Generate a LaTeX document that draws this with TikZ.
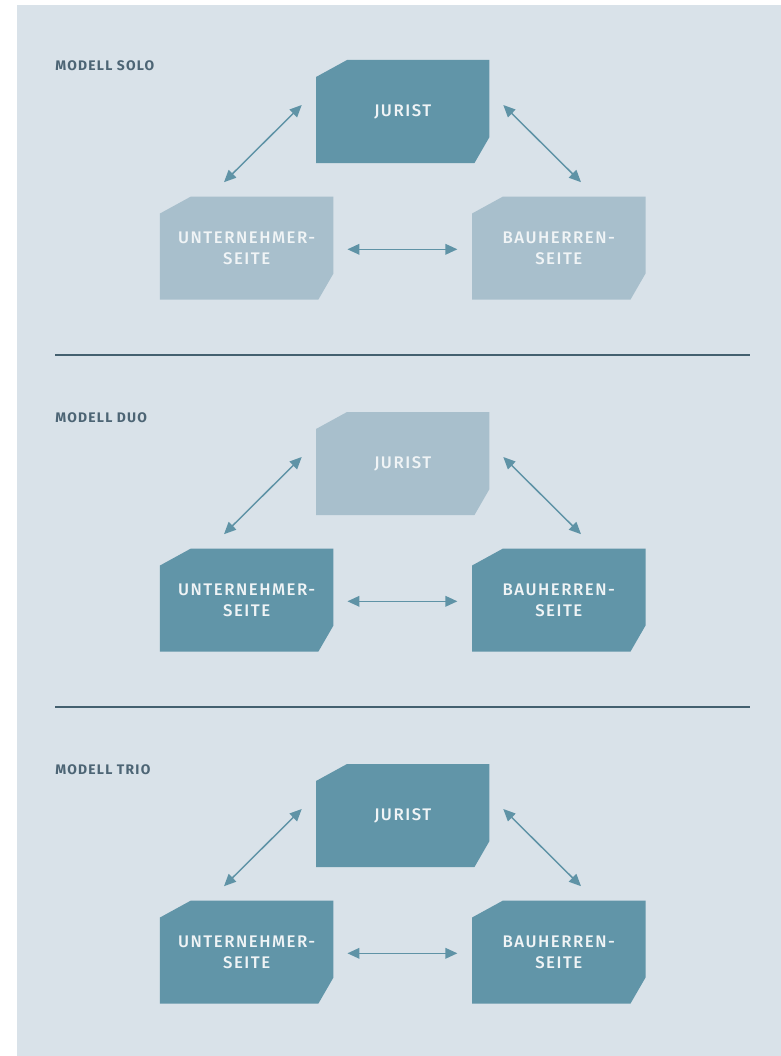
\documentclass[tikz,border=0pt]{standalone}
\usepackage{fontspec}
\setmainfont{Fira Sans}
\newfontfamily\boxfont[LetterSpace=9]{Fira Sans Medium}
\newfontfamily\labfont[LetterSpace=9]{Fira Sans}
\usetikzlibrary{arrows.meta,calc}
\definecolor{panel}{HTML}{D9E2E9}
\definecolor{darkbox}{HTML}{6195A8}
\definecolor{lightbox}{HTML}{A8BFCC}
\definecolor{arrowc}{HTML}{5F93A6}
\definecolor{labc}{HTML}{4D6575}
\definecolor{rulec}{HTML}{44606F}
\definecolor{boxtext}{HTML}{F0F4F6}
\pgfdeclarelayer{bg}
\pgfsetlayers{bg,main}
\newcommand\boxshape[2]{%
  \begin{pgfonlayer}{bg}
    \fill[#2] ($(#1.north west)+(31,0)$) -- (#1.north east) -- ($(#1.south east)+(0,-26)$)
      -- ($(#1.south east)+(-15,0)$) -- (#1.south west) -- ($(#1.north west)+(0,17)$) -- cycle;
  \end{pgfonlayer}}
\tikzset{
  boxnode/.style={minimum width=130.1pt, minimum height=77.25pt, inner sep=0pt, outer sep=0pt,
    align=center, text=boxtext, font=\boxfont\fontsize{12.6}{15.75}\selectfont},
  modlabel/.style={anchor=base west, inner sep=0pt, text=labc, font=\labfont\bfseries\fontsize{10.4}{12}\selectfont},
  dblarrow/.style={draw=arrowc, line width=1.1pt, {Triangle[length=9pt,width=8pt]}-{Triangle[length=9pt,width=8pt]}},
  seprule/.style={draw=rulec, line width=1pt}
}
\begin{document}
\begin{tikzpicture}[x=0.75pt,y=-0.75pt]
\useasboundingbox (0,0) rectangle (781,1056);
\begin{pgfonlayer}{bg}
\fill[panel] (17,5) rectangle (781,1056);
\end{pgfonlayer}
\foreach \off/\name/\jc/\uc [count=\i] in {0/SOLO/darkbox/lightbox, 352/DUO/lightbox/darkbox, 704/TRIO/darkbox/darkbox}{
  \node[modlabel] (lab\i) at (55,70.5+\off) {MODELL \name};
  \node[boxnode] (j\i) at (402.75,111.5+\off) {JURIST};
  \node[boxnode] (u\i) at (246.7,248+\off) {UNTERNEHMER-\\SEITE};
  \node[boxnode] (b\i) at (558.8,248+\off) {BAUHERREN-\\SEITE};
  \boxshape{j\i}{\jc}
  \boxshape{u\i}{\uc}
  \boxshape{b\i}{\uc}
  \draw[dblarrow] ($(u\i.north)+(-22.7,-14.3)$) -- ($(j\i.west)+(-14.3,-6.5)$);
  \draw[dblarrow] ($(j\i.east)+(13.8,-6.5)$) -- ($(b\i.north)+(22.2,-14.3)$);
  \draw[dblarrow] ($(u\i.east)+(14,1.3)$) -- ($(b\i.west)+(-14.7,1.3)$);
}
\coordinate (r1a) at (55,355);
\coordinate (r1b) at (750,355);
\coordinate (r2a) at (55,707);
\coordinate (r2b) at (750,707);
\draw[seprule] (r1a) -- (r1b);
\draw[seprule] (r2a) -- (r2b);
\end{tikzpicture}
\end{document}
